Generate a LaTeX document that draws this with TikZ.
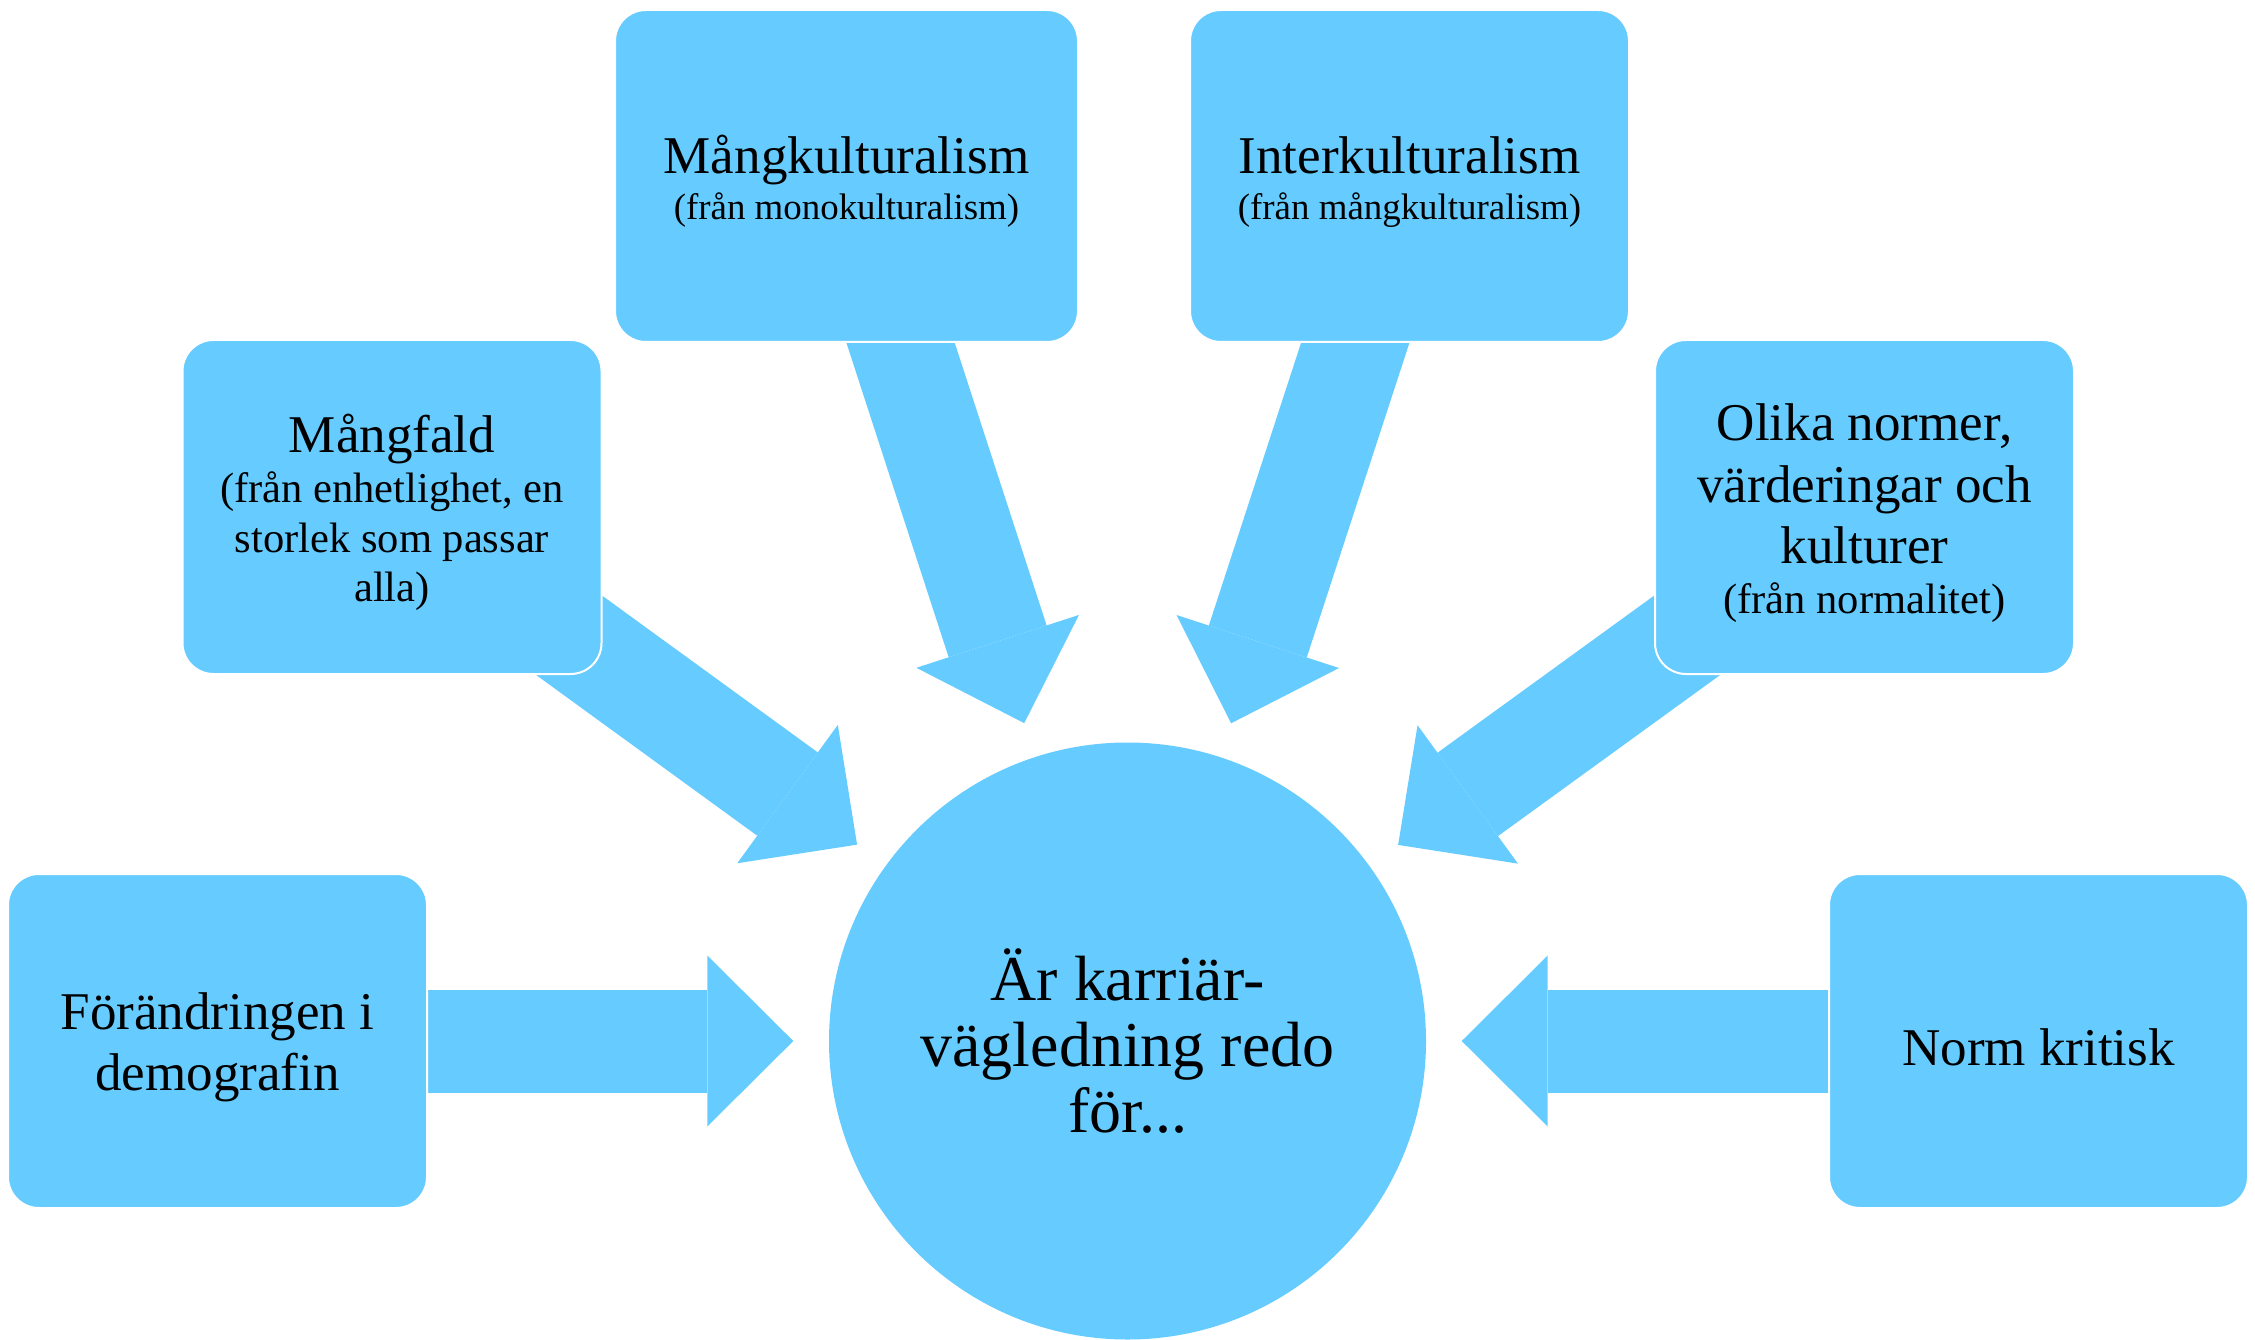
\documentclass[tikz,border=0pt]{standalone}
\usepackage{fontspec}
\setmainfont{Liberation Serif}
\usetikzlibrary{arrows.meta,backgrounds}
\definecolor{skyblue}{HTML}{66CCFF}
\setlength{\parindent}{0pt}
\newcommand{\titlesize}{\fontsize{15.1}{17.4}\selectfont}
\newcommand{\sidesub}{\fontsize{12.1}{14.2}\selectfont}
\newcommand{\topsub}{\fontsize{10.5}{13.1}\selectfont}
\newcommand{\hubsize}{\fontsize{18.2}{18.8}\selectfont}
\tikzset{
  box/.style={draw=white, line width=0.02cm, fill=skyblue, rounded corners=0.31cm,
    minimum width=4.19cm, minimum height=3.34cm, inner sep=0pt,
    text width=4.1cm, align=flush center, font=\titlesize,
    execute at begin node={\par\vspace*{-0.12cm}}},
  hub/.style={circle, fill=skyblue, minimum size=5.97cm, inner sep=0pt,
    text width=4.8cm, align=flush center, font=\hubsize},
  bigarrow/.style={draw=skyblue, line width=1.03cm,
    -{Triangle[length=0.86cm, width=1.71cm, line width=0pt]},
    shorten <=-0.7cm, shorten >=0.35cm}
}
\begin{document}
\begin{tikzpicture}
\useasboundingbox (0,0) rectangle (22.55,-13.40);
\node[hub] (hub) at (11.275,-10.41) {Är karriär-\par vägledning redo\par för...};
\node[box] (forand) at (2.175,-10.41) {Förändringen i\par demografin};
\node[box] (mangfald) at (3.92,-5.07) {Mångfald\par{\sidesub (från enhetlighet, en\par storlek som passar\par alla)\par}};
\node[box, minimum width=4.63cm, minimum height=3.32cm] (mangkult) at (8.465,-1.76) {Mångkulturalism\par{\topsub (från monokulturalism)\par}};
\node[box, minimum width=4.39cm, minimum height=3.32cm] (interkult) at (14.095,-1.76) {Interkulturalism\par{\topsub (från mångkulturalism)\par}};
\node[box] (olika) at (18.645,-5.07) {Olika normer,\par värderingar och\par kulturer\par{\sidesub (från normalitet)\par}};
\node[box] (norm) at (20.385,-10.41) {Norm kritisk};
% arrows behind the boxes
\begin{scope}[on background layer]
\foreach \src in {forand,mangfald,mangkult,interkult,olika,norm}
  \draw[bigarrow] (\src) -- (hub);
\end{scope}
\end{tikzpicture}
\end{document}
